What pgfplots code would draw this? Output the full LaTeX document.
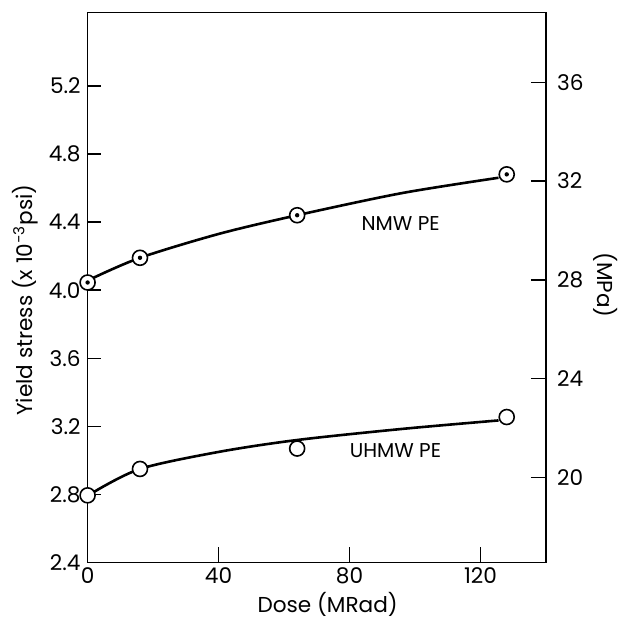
\documentclass[border=0pt]{standalone}
\usepackage{pgfplots}
\pgfplotsset{compat=1.18}
\usepackage{fontspec}
\setmainfont{Poppins}
\pgfdeclareplotmark{odot}{%
  \pgfpathcircle{\pgfpointorigin}{\pgfplotmarksize}%
  \pgfsetfillcolor{white}\pgfsetstrokecolor{black}%
  \pgfusepath{fill,stroke}%
  \pgfpathcircle{\pgfpointorigin}{1.1pt}%
  \pgfsetfillcolor{black}%
  \pgfusepath{fill}}
\pgfdeclareplotmark{ocirc}{%
  \pgfpathcircle{\pgfpointorigin}{\pgfplotmarksize}%
  \pgfsetfillcolor{white}\pgfsetstrokecolor{black}%
  \pgfusepath{fill,stroke}}
\begin{document}
\begin{tikzpicture}
\pgfplotsset{
  common/.style={
    width=229.2pt, height=275pt, scale only axis,
    xmin=0, xmax=140,
    axis line style={line width=0.6pt},
    tickwidth=0pt,
    tick align=inside,
    tick label style={font=\fontsize{10.8}{12}\selectfont},
    label style={font=\fontsize{10.8}{12}\selectfont},
  }
}
\begin{axis}[common,
  ymin=2.4, ymax=5.63,
  xtick={0,40,80,120},
  ytick={2.4,2.8,3.2,3.6,4.0,4.4,4.8,5.2},
  xtick pos=left, ytick pos=left,
  yticklabel style={/pgf/number format/.cd, fixed, fixed zerofill, precision=1, assume math mode=true},
  xticklabel style={yshift=1pt, /pgf/number format/assume math mode=true},
  xlabel={Dose (MRad)},
  ylabel={Yield stress (x 10\textsuperscript{−3}psi)},
  xlabel style={at={(axis description cs:0.5237,-0.0753)}, anchor=center},
  ylabel style={at={(axis description cs:-0.1366,0.4775)}, anchor=center},
  clip=false,
]
\coordinate (LL) at (rel axis cs:0,0);
\coordinate (UR) at (rel axis cs:1,1);
% tick marks drawn through the axis
\pgfplotsinvokeforeach{2.8,3.2,3.6,4.0,4.4,4.8,5.2}{
  \addplot[black, line width=0.7pt, forget plot] coordinates {(0,#1) (4,#1)};}
\pgfplotsinvokeforeach{40,80,120}{
  \addplot[black, line width=0.7pt, forget plot] coordinates {(#1,2.4) (#1,2.494)};}
% fitted curves
\addplot[black, line width=1.3pt, smooth] coordinates {
  (1.5,4.07) (16,4.19) (40,4.33) (64,4.44) (96,4.57) (125.5,4.66)};
\addplot[black, line width=1.3pt, smooth] coordinates {
  (1.5,2.81) (16,2.95) (40,3.05) (64,3.12) (96,3.185) (125.5,3.235)};
% NMW PE data (dotted circles)
\addplot[only marks, mark=odot, mark size=3.75pt, mark options={line width=0.8pt}] coordinates {
  (0,4.045) (16,4.19) (64,4.44) (128,4.68)};
% UHMW PE data (open circles)
\addplot[only marks, mark=ocirc, mark size=3.75pt, mark options={line width=0.8pt}] coordinates {
  (0,2.795) (16,2.95) (64,3.07) (128,3.255)};
\node[font=\fontsize{10}{12}\selectfont] at (axis cs:95.6,4.39) {NMW PE};
\node[font=\fontsize{10}{12}\selectfont] at (axis cs:94,3.057) {UHMW PE};
\end{axis}
\begin{axis}[common,
  ymin=16.548, ymax=38.82,
  axis x line=none,
  axis y line*=right,
  ytick={20,24,28,32,36},
  ytick pos=right,
  yticklabel style={xshift=2pt, /pgf/number format/assume math mode=true},
  ylabel={(MPa)},
  ylabel style={at={(axis description cs:1.131,0.5047)}, anchor=center, rotate=180},
  clip=false,
]
\pgfplotsinvokeforeach{20,24,28,32,36}{
  \addplot[black, line width=0.7pt] coordinates {(135.4,#1) (140,#1)};}
\end{axis}
\pgfresetboundingbox
\path[use as bounding box] ([shift={(-43.8pt,-27.2pt)}]LL) rectangle ([shift={(36.5pt,6.3pt)}]UR);
\end{tikzpicture}
\end{document}
